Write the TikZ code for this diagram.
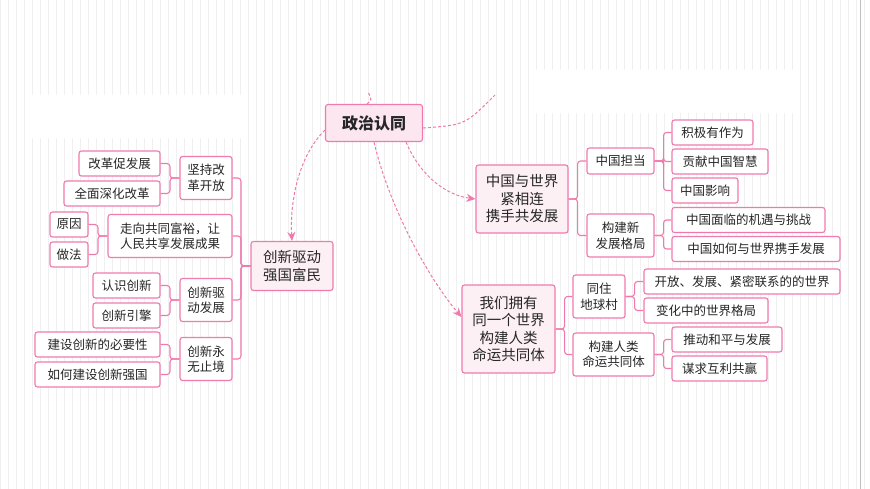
\documentclass[tikz,border=0pt]{standalone}
\usepackage{fontspec}
\setmainfont{Noto Sans CJK SC}
\usetikzlibrary{arrows.meta}
\definecolor{pk}{HTML}{F07AAE}
\definecolor{pkf}{HTML}{FCE6EF}
\begin{document}
\begin{tikzpicture}[x=1pt,y=-1pt,
 box/.style={draw=pk,line width=1.1pt,rounded corners=2.5pt,fill=white,inner sep=0pt,align=center,text=black!85},
 leaf/.style={box,font=\fontsize{12.5}{14}\selectfont,minimum height=25},
 mid/.style={box,font=\fontsize{12.5}{15.5}\selectfont},
 big/.style={box,fill=pkf!60,font=\fontsize{14.5}{17.5}\selectfont},
 ln/.style={draw=pk,line width=1.1pt,rounded corners=3pt},
 dsh/.style={draw=pk,line width=1pt,dash pattern=on 3pt off 2pt},
 arr/.style={dsh,-{Stealth[length=9pt,width=8pt]}}]
\useasboundingbox (0,0) rectangle (870,489);
\fill[white] (0,0) rectangle (870,489);
\draw[black!6,line width=0.5pt,step=8] (0,0) grid (870,489);
\fill[white] (30,95) rectangle (245,138);
\fill[white] (533,70) rectangle (795,113);
\draw[black!25] (860,0) -- (860,489);
% root
\node[box,fill=pkf,minimum width=97,minimum height=37,font=\fontsize{16}{18}\selectfont\bfseries] (root) at (374,123) {政治认同};
% left
\node[big,minimum width=82,minimum height=49] (cx) at (292,266) {创新驱动\\强国富民};
\node[mid,minimum width=52,minimum height=43] (l1) at (206,178) {坚持改\\革开放};
\node[mid,minimum width=124,minimum height=43] (l2) at (170,236) {走向共同富裕，让\\人民共享发展成果};
\node[mid,minimum width=52,minimum height=43] (l3) at (206,300) {创新驱\\动发展};
\node[mid,minimum width=52,minimum height=43] (l4) at (206,359) {创新永\\无止境};
\node[leaf,minimum width=81] (a1) at (119.5,163.5) {改革促发展};
\node[leaf,minimum width=96] (a2) at (112,193.5) {全面深化改革};
\node[leaf,minimum width=38] (b1) at (69,224.5) {原因};
\node[leaf,minimum width=38] (b2) at (69,254.5) {做法};
\node[leaf,minimum width=67] (c1) at (126.5,285.5) {认识创新};
\node[leaf,minimum width=67] (c2) at (126.5,315.5) {创新引擎};
\node[leaf,minimum width=125] (d1) at (97.5,344.5) {建设创新的必要性};
\node[leaf,minimum width=125] (d2) at (97.5,374.5) {如何建设创新强国};
\foreach \p/\c in {cx/l1,cx/l2,cx/l3,cx/l4,l1/a1,l1/a2,l2/b1,l2/b2,l3/c1,l3/c2,l4/d1,l4/d2}
  \draw[ln] (\p.west) -- ++(-9.5,0) |- (\c.east);
% right top
\node[big,minimum width=92,minimum height=68] (r1) at (522,199) {中国与世界\\紧相连\\携手共发展};
\node[mid,minimum width=67,minimum height=26] (s1) at (620.5,161) {中国担当};
\node[mid,minimum width=67,minimum height=43] (s2) at (620.5,235.5) {构建新\\发展格局};
\node[leaf,minimum width=81] (e1) at (712.5,132.5) {积极有作为};
\node[leaf,minimum width=96] (e2) at (720,161.5) {贡献中国智慧};
\node[leaf,minimum width=66] (e3) at (705,190.5) {中国影响};
\node[leaf,minimum width=153] (e4) at (748.5,220) {中国面临的机遇与挑战};
\node[leaf,minimum width=168] (e5) at (756,249) {中国如何与世界携手发展};
% right bottom
\node[big,minimum width=93,minimum height=88] (r2) at (508.5,329) {我们拥有\\同一个世界\\构建人类\\命运共同体};
\node[mid,minimum width=52,minimum height=43] (t1) at (599,296.5) {同住\\地球村};
\node[mid,minimum width=81,minimum height=43] (t2) at (613.5,354.5) {构建人类\\命运共同体};
\node[leaf,minimum width=196] (f1) at (742,281.5) {开放、发展、紧密联系的的世界};
\node[leaf,minimum width=124] (f2) at (706,310.5) {变化中的世界格局};
\node[leaf,minimum width=110] (f3) at (727,339.5) {推动和平与发展};
\node[leaf,minimum width=95] (f4) at (719.5,368.5) {谋求互利共赢};
\foreach \p/\c in {r1/s1,r1/s2,s1/e1,s1/e2,s1/e3,s2/e4,s2/e5,r2/t1,r2/t2,t1/f1,t1/f2,t2/f3,t2/f4}
  \draw[ln] (\p.east) -- ++(9,0) |- (\c.west);
% dashed
\coordinate (up1) at (368,92);
\coordinate (up2) at (495,95);
\draw[dsh] (root.north west) ++(42,0) .. controls (372,100) .. (up1);
\draw[dsh] (root.east) ++(0,5) .. controls (465,125) .. (up2);
\draw[arr] (root.west) ++(0,7) .. controls (295,160) and (290,210) .. (cx.north);
\draw[arr] (root.south) ++(32,0) .. controls (420,175) and (445,195) .. (r1.west);
\draw[arr] (root.south) ++(0,0) .. controls (390,210) and (430,280) .. (r2.west |- 0,317);
\end{tikzpicture}
\end{document}
